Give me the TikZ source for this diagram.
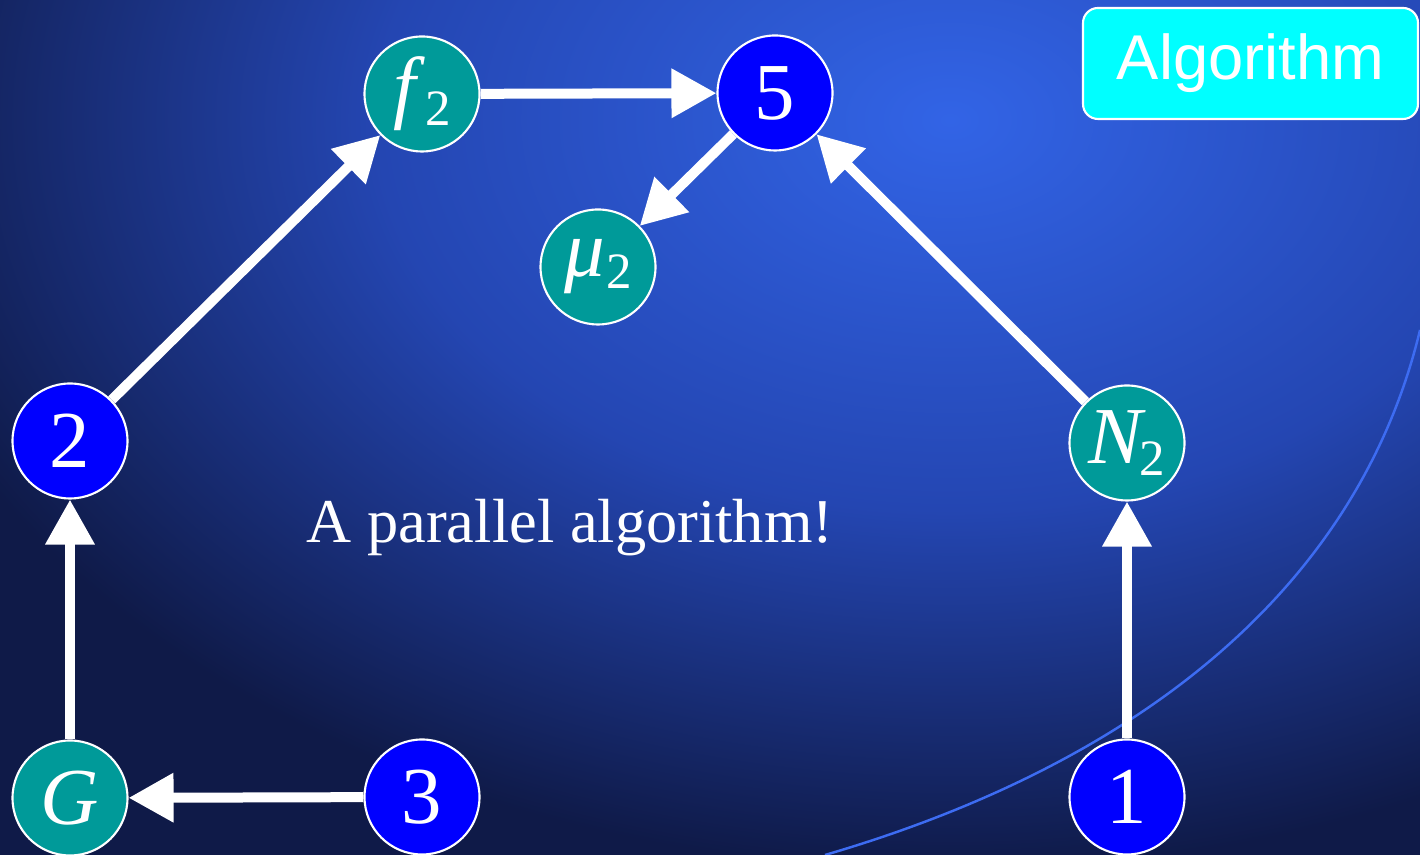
\documentclass[tikz,border=0pt]{standalone}
\usepackage{fontspec}
\setmainfont{Liberation Serif}
\setsansfont{Liberation Sans}
\usetikzlibrary{arrows.meta}
\definecolor{deepnavy}{HTML}{0F1A48}
\definecolor{midblue}{HTML}{2446B2}
\definecolor{glow}{HTML}{3264E6}
\definecolor{nodeblue}{HTML}{0000FF}
\definecolor{nodeteal}{HTML}{009A99}
\definecolor{curveblue}{HTML}{3D6CF2}
\definecolor{boxcyan}{HTML}{00FFFF}
\pgfdeclareradialshading{bgglow}{\pgfpoint{0bp}{0bp}}{color(0bp)=(glow); color(13bp)=(midblue); color(25bp)=(deepnavy); color(50bp)=(deepnavy)}
\newcommand{\withsub}[2][0em]{\textit{#2}\kern#1\raisebox{-0.14em}{\fontsize{29}{29}\selectfont 2}}

\begin{document}
\begin{tikzpicture}[
  numnode/.style={circle,draw=white,line width=1.2pt,fill=nodeblue,minimum size=2.3cm,inner sep=0pt,text=white,font=\fontsize{46}{52}\selectfont},
  varnode/.style={numnode,fill=nodeteal},
  arrow/.style={-{Triangle[width=0.94cm,length=0.9cm]},line width=0.2cm,white},
  algbox/.style={draw=white,line width=1.2pt,rounded corners=0.3cm,fill=boxcyan,minimum width=6.7cm,minimum height=2.22cm,text=white,font=\sffamily\fontsize{36}{40}\selectfont}
]
  % background
  \useasboundingbox (0,0) rectangle (28.4,17.1);
  \begin{scope}
    \clip (0,0) rectangle (28.4,17.1);
    \fill[deepnavy] (0,0) rectangle (28.4,17.1);
    \shade[shading=bgglow] (19,14.7) ellipse (22cm and 15cm);
    \draw[curveblue,line width=1.4pt] (16.5,0) .. controls (23,1.9) and (27.2,5.5) .. (28.4,10.5);
  \end{scope}

  \node[varnode] (f2) at (8.44,15.22) {\withsub{f}};
  \node[numnode] (five) at (15.5,15.24) {5};
  \node[varnode] (mu2) at (11.96,11.76) {\withsub[0.02em]{μ}};
  \node[numnode] (two) at (1.4,8.28) {2};
  \node[varnode] (N2) at (22.54,8.24) {\withsub[-0.08em]{N}};
  \node[varnode] (G) at (1.4,1.14) {\textit{G}};
  \node[numnode] (three) at (8.44,1.16) {3};
  \node[numnode] (one) at (22.54,1.16) {1};

  \node[text=white,font=\fontsize{35.5}{40}\selectfont,anchor=base] (caption) at (11.4,6.24) {A parallel algorithm!};
  \node[algbox] (algo) at (25.01,15.83) {Algorithm};

  \draw[arrow] (G) -- (two);
  \draw[arrow] (three) -- (G);
  \draw[arrow] (two) -- (f2);
  \draw[arrow] (f2) -- (five);
  \draw[arrow] (five) -- (mu2);
  \draw[arrow] (one) -- (N2);
  \draw[arrow] (N2) -- (five);
\end{tikzpicture}
\end{document}
